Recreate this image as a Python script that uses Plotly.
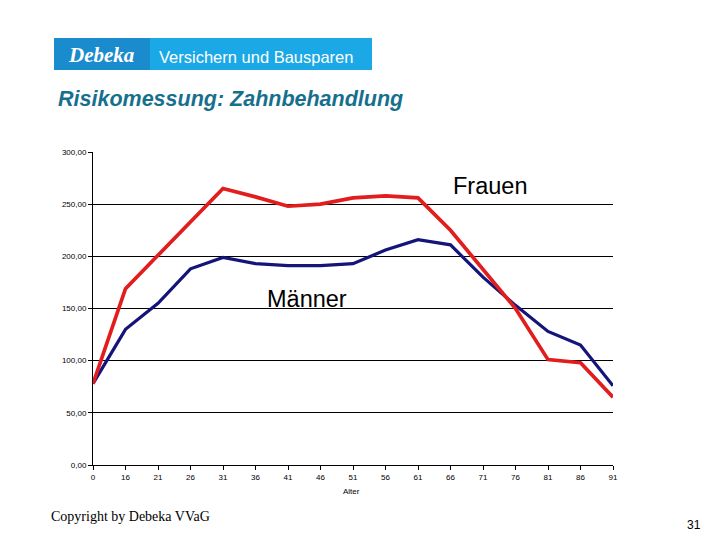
import plotly.graph_objects as go

alter = ["0", "16", "21", "26", "31", "36", "41", "46", "51", "56", "61", "66", "71", "76", "81", "86", "91"]
frauen = [78, 169, 201, 233, 265, 257, 248, 250, 256, 258, 256, 225, 187, 150, 101, 98, 65]
maenner = [78, 130, 155, 188, 199, 193, 191, 191, 193, 206, 216, 211, 180, 153, 128, 115, 76]
y_ticks = [0, 50, 100, 150, 200, 250, 300]
y_ticktext = ["0,00", "50,00", "100,00", "150,00", "200,00", "250,00", "300,00"]

OFF = 8  # page body margin
W, H = 720 - 2 * OFF, 540 - 2 * OFF
L, R, T, B = 93 - OFF, 613 - OFF, 152 - OFF, 465 - OFF


def px(X):
    return (X - OFF - L) / (R - L)


def py(Y):
    return (B - (Y - OFF)) / (B - T)


idx = list(range(len(alter)))
fig = go.Figure()
fig.add_trace(go.Scatter(x=idx, y=maenner, mode="lines", name="Männer",
                         line=dict(color="#14147a", width=3.2), cliponaxis=False))
fig.add_trace(go.Scatter(x=idx, y=frauen, mode="lines", name="Frauen",
                         line=dict(color="#e21d1d", width=3.7), cliponaxis=False))

fig.update_layout(
    width=W, height=H,
    margin=dict(l=L, r=W - R, t=T, b=H - B),
    paper_bgcolor="white", plot_bgcolor="white",
    showlegend=False,
    font=dict(family="Liberation Sans, Arial, sans-serif", color="black"),
    xaxis=dict(range=[0, 16], tickmode="array", tickvals=idx, ticktext=alter,
               showgrid=False, zeroline=False, showline=True, linecolor="black",
               linewidth=1, ticks="outside", ticklen=4, tickcolor="black",
               tickfont=dict(size=8), fixedrange=True),
    yaxis=dict(range=[0, 300], tickmode="array", tickvals=y_ticks, ticktext=y_ticktext,
               showgrid=True, gridcolor="black", gridwidth=1, zeroline=False,
               showline=True, linecolor="black", linewidth=1, ticks="outside",
               ticklen=4, tickcolor="black", tickfont=dict(size=8), fixedrange=True),
)

# banner
fig.add_shape(type="rect", xref="paper", yref="paper", x0=px(54), x1=px(150), y0=py(70), y1=py(38),
              fillcolor="#1a8bcc", line=dict(width=0), layer="above")
fig.add_shape(type="rect", xref="paper", yref="paper", x0=px(150), x1=px(372), y0=py(70), y1=py(38),
              fillcolor="#1aa8e6", line=dict(width=0), layer="above")

ann = [
    dict(text="<b><i>Debeka</i></b>", X=101, Y=55, size=21, color="white", xanchor="center",
         family="Liberation Serif, Times New Roman, serif"),
    dict(text="Versichern und Bausparen", X=157, Y=57, size=16.5, color="white", xanchor="left",
         family="Liberation Sans, Arial, sans-serif"),
    dict(text="<b><i>Risikomessung: Zahnbehandlung</i></b>", X=56, Y=99, size=21.5, color="#176f8e",
         xanchor="left", family="Liberation Sans, Arial, sans-serif"),
    dict(text="Frauen", X=451, Y=186, size=23.5, color="black", xanchor="left",
         family="Liberation Sans, Arial, sans-serif"),
    dict(text="Männer", X=265, Y=299, size=23.5, color="black", xanchor="left",
         family="Liberation Sans, Arial, sans-serif"),
    dict(text="Alter", X=351, Y=492, size=8, color="black", xanchor="center",
         family="Liberation Sans, Arial, sans-serif"),
    dict(text="Copyright by Debeka VVaG", X=49, Y=516, size=14, color="black", xanchor="left",
         family="Liberation Serif, Times New Roman, serif"),
    dict(text="31", X=694, Y=525, size=12, color="black", xanchor="center",
         family="Liberation Sans, Arial, sans-serif"),
]
for a in ann:
    fig.add_annotation(text=a["text"], xref="paper", yref="paper", x=px(a["X"]), y=py(a["Y"]),
                       xanchor=a["xanchor"], yanchor="middle", showarrow=False,
                       font=dict(size=a["size"], color=a["color"], family=a["family"]))

fig.write_html("out.html")
